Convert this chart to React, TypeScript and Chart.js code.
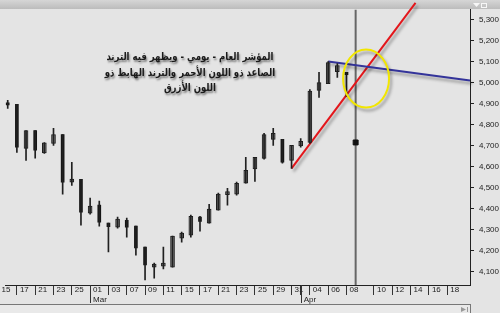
import React, { useEffect, useRef } from 'react';
import { Chart, registerables } from 'chart.js';

Chart.register(...registerables);

// ---- data ----
const dates = [
  'Feb 16', 'Feb 17', 'Feb 18', 'Feb 21', 'Feb 22', 'Feb 23', 'Feb 24', 'Feb 25', 'Feb 28',
  'Mar 01', 'Mar 02', 'Mar 03', 'Mar 04', 'Mar 07', 'Mar 08', 'Mar 09', 'Mar 10', 'Mar 11',
  'Mar 14', 'Mar 15', 'Mar 16', 'Mar 17', 'Mar 18', 'Mar 21', 'Mar 22', 'Mar 23', 'Mar 24',
  'Mar 25', 'Mar 28', 'Mar 29', 'Mar 30', 'Mar 31', 'Apr 01', 'Apr 04', 'Apr 05', 'Apr 06',
  'Apr 07', 'Apr 08',
];
const opens = [
  4905, 4897, 4688, 4773, 4666, 4712, 4754, 4527, 4541,
  4380, 4418, 4332, 4313, 4346, 4318, 4218, 4123, 4128,
  4123, 4261, 4275, 4361, 4332, 4394, 4468, 4470, 4522,
  4590, 4640, 4731, 4731, 4631, 4700, 4716, 4963, 4996,
  5053, 5049,
];
const highs = [
  4916, 4897, 4773, 4773, 4716, 4783, 4754, 4622, 4541,
  4451, 4437, 4332, 4361, 4356, 4318, 4218, 4142, 4218,
  4271, 4290, 4370, 4365, 4422, 4475, 4498, 4527, 4645,
  4645, 4759, 4783, 4731, 4702, 4735, 4968, 5049, 5101,
  5091, 5049,
];
const lows = [
  4878, 4669, 4631, 4641, 4664, 4702, 4470, 4512, 4323,
  4375, 4318, 4195, 4308, 4266, 4180, 4062, 4071, 4114,
  4123, 4242, 4266, 4294, 4332, 4394, 4418, 4465, 4522,
  4531, 4636, 4702, 4617, 4593, 4693, 4712, 4930, 4996,
  5025, 4935,
];
const closes = [
  4895, 4693, 4773, 4679, 4714, 4754, 4527, 4541, 4384,
  4413, 4337, 4315, 4351, 4313, 4214, 4133, 4138, 4135,
  4271, 4285, 4365, 4340, 4399, 4470, 4475, 4522, 4584,
  4645, 4754, 4759, 4622, 4702, 4721, 4960, 5001, 5096,
  5082, 5039,
];

const xTickIndex = [-1, 1, 3, 5, 7, 9, 11, 13, 15, 17, 19, 21, 23, 25, 27, 29, 31, 32, 33, 35, 37, 40, 42, 44, 46, 48];
const xTickLabels: (string | string[])[] = [
  '15', '17', '21', '23', '25', ['01', 'Mar'], '03', '07', '09', '11', '15', '17', '21', '23', '25',
  '29', '31', ['', 'Apr'], '04', '06', '08', '10', '12', '14', '16', '18',
];
const monthTickIndex = [9, 32];
const yTicks = [4100, 4200, 4300, 4400, 4500, 4600, 4700, 4800, 4900, 5000, 5100, 5200, 5300];

const upTrendX = [31, 44.54];
const upTrendY = [4593, 5380];
const downTrendX = [35, 50.49];
const downTrendY = [5101, 5011];
const cursorX = [38];
const cursorY = [4716];
const circleCenterX = 39.14;
const circleCenterY = 5020;

const noteLines = [
  'المؤشر العام - يومي - ويظهر فيه الترند',
  'الصاعد ذو اللون الأحمر والترند الهابط ذو',
  'اللون الأزرق',
];
const noteX = 19.9;
const noteY = 5120;

const idx = dates.map((_, i) => i);

const decorPlugin = {
  id: 'decor',
  beforeDraw(chart: any) {
    const { ctx, width, height } = chart;
    ctx.save();
    ctx.fillStyle = '#e4e4e4';
    ctx.fillRect(0, 0, width, height);
    const g = ctx.createLinearGradient(0, 0, 0, 9);
    g.addColorStop(0, '#d6d6d6');
    g.addColorStop(1, '#bcbcbc');
    ctx.fillStyle = g;
    ctx.fillRect(0, 0, width, 9);
    ctx.fillStyle = '#f6f6f6';
    ctx.beginPath();
    ctx.moveTo(473, 3);
    ctx.lineTo(480, 3);
    ctx.lineTo(476.5, 7);
    ctx.closePath();
    ctx.fill();
    ctx.strokeStyle = '#f6f6f6';
    ctx.lineWidth = 1;
    ctx.strokeRect(481.5, 3.5, 5, 4);
    // bottom scroll panel
    ctx.fillStyle = '#e9e9e9';
    ctx.fillRect(0, 304, 470, 9);
    ctx.strokeStyle = '#777';
    ctx.beginPath();
    ctx.moveTo(0, 304.5);
    ctx.lineTo(470.5, 304.5);
    ctx.moveTo(470.5, 304);
    ctx.lineTo(470.5, 313);
    ctx.stroke();
    ctx.fillStyle = '#999';
    ctx.beginPath();
    ctx.moveTo(461, 307);
    ctx.lineTo(466, 309.5);
    ctx.lineTo(461, 312);
    ctx.closePath();
    ctx.fill();
    ctx.fillRect(467, 307, 1, 5);
    ctx.restore();
  },
  beforeDatasetsDraw(chart: any) {
    const { ctx, chartArea, scales } = chart;
    const x = scales.x.getPixelForValue(cursorX[0]);
    ctx.save();
    ctx.strokeStyle = '#666';
    ctx.lineWidth = 2;
    ctx.beginPath();
    ctx.moveTo(x, chartArea.top);
    ctx.lineTo(x, chartArea.bottom);
    ctx.stroke();
    ctx.restore();
  },
  beforeDatasetDraw(chart: any, args: any) {
    const ds: any = chart.data.datasets[args.index];
    if (ds.shadow) {
      const ctx = chart.ctx;
      ctx.save();
      ctx.shadowColor = 'rgba(0,0,0,0.35)';
      ctx.shadowOffsetX = 2;
      ctx.shadowOffsetY = 3;
      ctx.shadowBlur = 3;
    }
  },
  afterDatasetDraw(chart: any, args: any) {
    const ds: any = chart.data.datasets[args.index];
    if (ds.shadow) chart.ctx.restore();
  },
  afterDraw(chart: any) {
    const { ctx, scales } = chart;
    const xs = scales.x;
    const ys = scales.y;
    // month separators
    ctx.save();
    ctx.strokeStyle = '#333';
    ctx.lineWidth = 1;
    monthTickIndex.forEach((m) => {
      const px = Math.round(xs.getPixelForValue(m)) + 0.5;
      ctx.beginPath();
      ctx.moveTo(px, ys.bottom);
      ctx.lineTo(px, 303);
      ctx.stroke();
    });
    // highlight ellipse
    const cx = xs.getPixelForValue(circleCenterX);
    const cy = ys.getPixelForValue(circleCenterY);
    ctx.shadowColor = 'rgba(0,0,0,0.35)';
    ctx.shadowOffsetX = 2;
    ctx.shadowOffsetY = 3;
    ctx.shadowBlur = 3;
    ctx.strokeStyle = '#f2e600';
    ctx.lineWidth = 2;
    ctx.beginPath();
    ctx.ellipse(cx, cy, 23, 29, 0, 0, Math.PI * 2);
    ctx.stroke();
    // note text
    ctx.shadowColor = 'rgba(0,0,0,0.45)';
    ctx.shadowOffsetX = 1;
    ctx.shadowOffsetY = 2;
    ctx.shadowBlur = 2;
    ctx.fillStyle = '#1a1a1a';
    ctx.font = 'bold 11px "DejaVu Sans", sans-serif';
    ctx.textAlign = 'center';
    ctx.textBaseline = 'middle';
    (ctx as any).direction = 'rtl';
    const tx = xs.getPixelForValue(noteX);
    const ty = ys.getPixelForValue(noteY);
    const w0 = ctx.measureText(noteLines[0]).width;
    const sx = w0 > 0 ? 167 / w0 : 1;
    noteLines.forEach((line, i) => {
      ctx.save();
      ctx.translate(tx, ty + i * 15.5);
      ctx.scale(sx, 1);
      ctx.fillText(line, 0, 0);
      ctx.restore();
    });
    ctx.restore();
  },
};

export default function App() {
  const ref = useRef<HTMLCanvasElement>(null);
  useEffect(() => {
    if (!ref.current) return;
    const upIdx = idx.filter((i) => closes[i] >= opens[i]);
    const downIdx = idx.filter((i) => closes[i] < opens[i]);
    const chart = new Chart(ref.current, {
      type: 'bar',
      data: {
        datasets: [
          {
            type: 'bar',
            label: 'wick',
            data: idx.map((i) => ({ x: i, y: [lows[i], highs[i]] })) as any,
            backgroundColor: '#202020',
            barThickness: 1,
            grouped: false,
            borderWidth: 0,
          } as any,
          {
            type: 'bar',
            label: 'down',
            data: downIdx.map((i) => ({ x: i, y: [closes[i], opens[i]] })) as any,
            backgroundColor: '#151515',
            barThickness: 3,
            grouped: false,
            borderWidth: 0,
            minBarLength: 2,
          } as any,
          {
            type: 'bar',
            label: 'up',
            data: upIdx.map((i) => ({ x: i, y: [opens[i], closes[i]] })) as any,
            backgroundColor: '#7c7c7c',
            borderColor: '#1c1c1c',
            borderWidth: 1,
            borderSkipped: false,
            barThickness: 4,
            grouped: false,
            minBarLength: 3,
          } as any,
          {
            type: 'line',
            label: 'down trend',
            data: downTrendX.map((x, i) => ({ x, y: downTrendY[i] })),
            borderColor: '#34349a',
            borderWidth: 2,
            pointRadius: 0,
            clip: false,
            shadow: true,
          } as any,
          {
            type: 'line',
            label: 'up trend',
            data: upTrendX.map((x, i) => ({ x, y: upTrendY[i] })),
            borderColor: '#e3161b',
            borderWidth: 2,
            pointRadius: 0,
            clip: false,
            shadow: true,
          } as any,
          {
            type: 'scatter',
            label: 'cursor',
            data: cursorX.map((x, i) => ({ x, y: cursorY[i] })),
            backgroundColor: '#111',
            borderColor: '#111',
            pointStyle: 'rect',
            pointRadius: 3.5,
          } as any,
        ],
      },
      options: {
        animation: false,
        responsive: false,
        devicePixelRatio: 1,
        layout: { padding: { top: 9, bottom: 9, left: 0, right: 0 } },
        plugins: { legend: { display: false }, tooltip: { enabled: false }, title: { display: false } },
        scales: {
          x: {
            type: 'linear',
            position: 'bottom',
            offset: false,
            min: -0.297,
            max: 50.49,
            afterBuildTicks: (s: any) => {
              s.ticks = xTickIndex.map((v) => ({ value: v }));
            },
            afterFit: (s: any) => {
              s.height = 19;
              s.paddingLeft = 0;
              s.paddingRight = 0;
            },
            grid: { offset: false, drawOnChartArea: false, drawTicks: true, tickLength: 10, color: '#333', tickColor: '#333', lineWidth: 1 },
            border: { display: true, color: '#222', width: 1 },
            ticks: {
              autoSkip: false,
              maxRotation: 0,
              minRotation: 0,
              align: 'start',
              labelOffset: 3,
              padding: -10,
              color: '#222',
              font: { size: 8, family: '"Liberation Sans", Arial, sans-serif' },
              callback: (v: any) => {
                const k = xTickIndex.indexOf(Number(v));
                return k >= 0 ? xTickLabels[k] : '';
              },
            },
          } as any,
          y: {
            type: 'linear',
            position: 'right',
            min: 4038,
            max: 5347,
            afterBuildTicks: (s: any) => {
              s.ticks = yTicks.map((v) => ({ value: v }));
            },
            afterFit: (s: any) => {
              s.width = 30;
            },
            grid: { drawOnChartArea: false, drawTicks: true, tickLength: 4, color: '#222', tickColor: '#222' },
            border: { display: true, color: '#222', width: 1 },
            ticks: {
              padding: 5,
              color: '#222',
              font: { size: 8, family: '"Liberation Sans", Arial, sans-serif' },
              callback: (v: any) => Number(v).toLocaleString('en-US'),
            },
          } as any,
        },
      },
      plugins: [decorPlugin as any],
    });
    return () => chart.destroy();
  }, []);
  return (
    <div style={{ position: 'fixed', left: 0, top: 0, width: 500, height: 313 }}>
      <canvas ref={ref} width={500} height={313} />
    </div>
  );
}
